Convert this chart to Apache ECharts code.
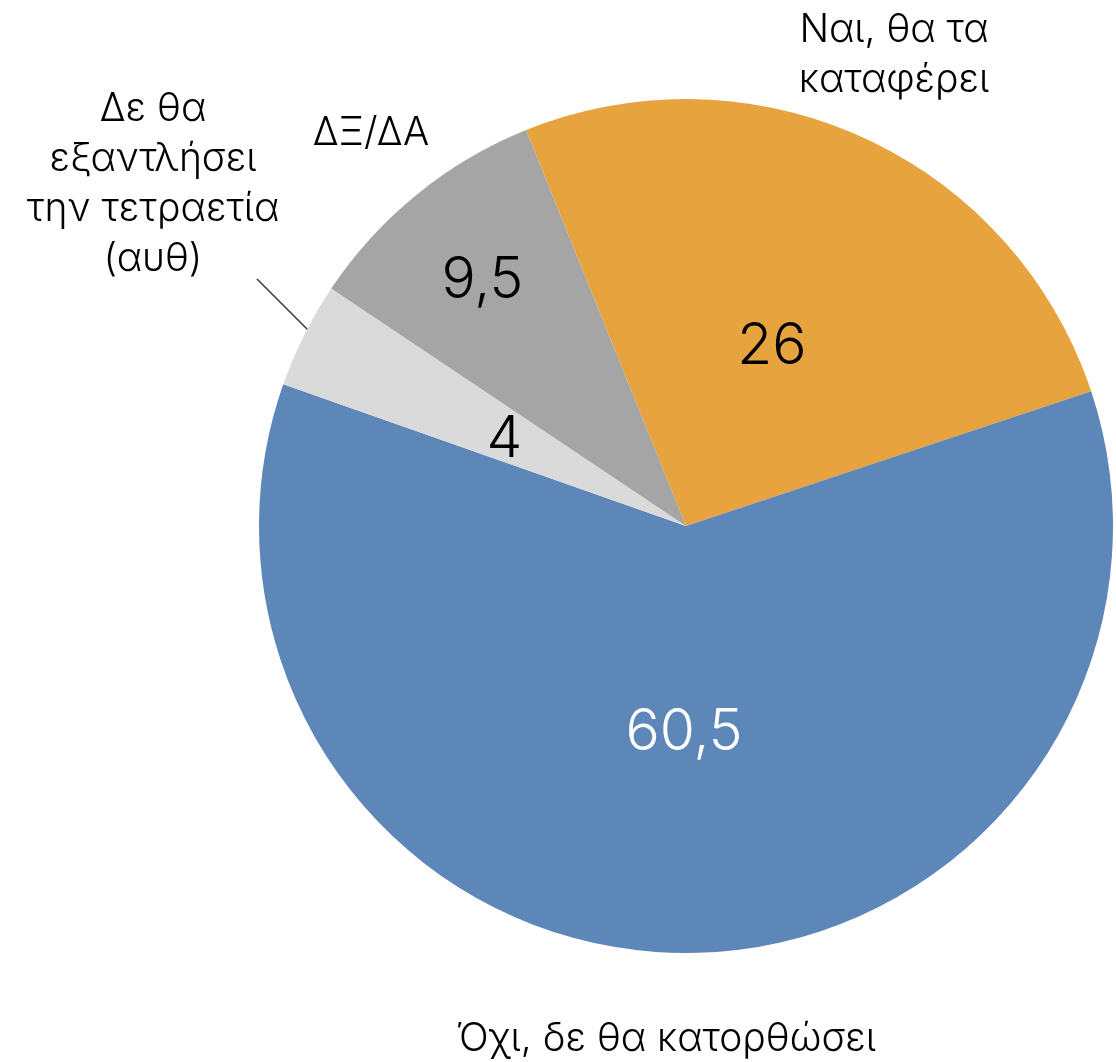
<!DOCTYPE html>
<html lang="el">
<head>
    <meta charset="utf-8">
    <title>Pie</title>
    <script src="https://cdn.jsdelivr.net/npm/echarts@6/dist/echarts.min.js"></script>
    <style>
        html, body { margin: 0; padding: 0; background: #fff; }
        #chart { width: 1116px; height: 1062px; }
    </style>
</head>
<body>
    <div id="chart"></div>
    <script>
        // data, clockwise from the orange slice
        const names = [
            'Ναι, θα τα\nκαταφέρει',
            'Όχι, δε θα κατορθώσει',
            'Δε θα\nεξαντλήσει\nτην τετραετία\n(αυθ)',
            'ΔΞ/ΔΑ'
        ];
        const values = [26, 60.5, 4, 9.5];
        const valueLabels = ['26', '60,5', '4', '9,5'];

        const colors = ['#E7A33D', '#5E87B9', '#DADADA', '#A5A5A5'];
        const innerColors = ['#000', '#fff', '#000', '#000'];
        // where the inside numbers sit, offset from the default spot
        const innerShift = [[-5, 17], [0, -10], [12, 11], [-67, -77]];
        // outer name labels (centre points)
        const outerPos = [[894, 55], [666, 1039], [153, 184], [371, 133]];

        const font = 'Inter, Roboto, sans-serif';
        const center = [686, 526];
        const radius = 427;

        const chart = echarts.init(document.getElementById('chart'));

        chart.setOption({
            animation: false,
            series: [
                {
                    type: 'pie',
                    center: center,
                    radius: radius,
                    startAngle: 112,
                    clockwise: true,
                    silent: true,
                    itemStyle: { borderWidth: 0 },
                    label: {
                        show: true,
                        position: 'inside',
                        fontFamily: font,
                        fontWeight: 300,
                        fontSize: 57
                    },
                    labelLayout: function (p) {
                        const s = innerShift[p.dataIndex];
                        return { dx: s[0], dy: s[1] };
                    },
                    data: values.map((v, i) => ({
                        value: v,
                        name: names[i],
                        itemStyle: { color: colors[i] },
                        label: { formatter: valueLabels[i], color: innerColors[i] }
                    }))
                },
                {
                    type: 'pie',
                    center: center,
                    radius: radius,
                    startAngle: 112,
                    clockwise: true,
                    silent: true,
                    itemStyle: { color: 'rgba(0,0,0,0)', borderWidth: 0 },
                    label: {
                        show: true,
                        position: 'outside',
                        formatter: '{b}',
                        color: '#000',
                        fontFamily: font,
                        fontWeight: 300,
                        fontSize: 39,
                        lineHeight: 50,
                        width: 460,
                        overflow: 'none',
                        align: 'center'
                    },
                    labelLine: { show: false },
                    labelLayout: function (p) {
                        const pos = outerPos[p.dataIndex];
                        const out = {
                            x: pos[0], y: pos[1],
                            align: 'center', verticalAlign: 'middle'
                        };
                        if (p.dataIndex === 2) {
                            out.labelLinePoints = [[310, 332], [284, 306], [257, 279]];
                        }
                        return out;
                    },
                    data: values.map((v, i) => ({
                        value: v,
                        name: names[i],
                        labelLine: {
                            show: i === 2,
                            lineStyle: { color: '#333', width: 1.5 }
                        }
                    }))
                }
            ]
        });
    </script>
</body>
</html>
